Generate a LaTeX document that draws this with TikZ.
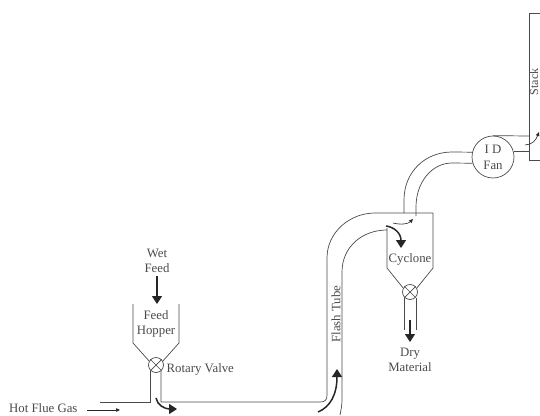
\documentclass[tikz,border=0pt]{standalone}
\usepackage{fontspec}
\setmainfont{Liberation Serif}
\usetikzlibrary{arrows.meta, calc}
\definecolor{mygray}{HTML}{4A4A4A}
\definecolor{mytext}{HTML}{4A4A4A}
\tikzset{
	labelnode/.style={
			font=\fontsize{12.8}{15}\selectfont,
			text=mytext,
			align=center,
			inner sep=0pt
		},
	valvenode/.style={
			circle,
			draw=mygray,
			fill=white,
			line width=0.7pt,
			minimum size=15pt,
			inner sep=0pt
		},
	fannode/.style={
			valvenode,
			minimum size=42pt
		},
	wall/.style={
			draw=mygray,
			line width=0.7pt
		},
	flowarrow/.style={
			draw=black!85,
			line width=1.5pt,
			-{Triangle[length=8pt,width=10pt]}
		},
	thinarrow/.style={
			draw=black!85,
			line width=0.6pt,
			-{Triangle[length=4pt,width=3.5pt]}
		}
}

\begin{document}
\begin{tikzpicture}[x=1pt,y=-1pt]

  \clip (0,0) rectangle (540,415);

  % labels
  \node[labelnode] (wet) at (157,260.5) {Wet\\Feed};
  \node[labelnode] (hopper) at (156,323.5) {Feed\\Hopper};
  \node[labelnode, anchor=west] (rotary) at (166.5,369.5) {Rotary Valve};
  \node[labelnode, anchor=west] (flue) at (9,408) {Hot Flue Gas};
  \node[labelnode, rotate=90] (flash) at (336,314) {Flash Tube};
  \node[labelnode] (cyclone) at (410,259) {Cyclone};
  \node[labelnode] (dry) at (410,359.5) {Dry\\Material};
  \node[labelnode, rotate=90, font=\fontsize{12}{15}\selectfont] (stack) at (534,82) {Stack};

  % valves and fan
  \node[valvenode] (v1) at (156,365) {};
  \node[valvenode] (v2) at (410,292) {};
  \node[fannode, labelnode, draw=mygray] (fan) at (493,157) {I D\\[1pt]Fan};
  \foreach \v in {v1, v2} {
    \draw[wall] (\v.45) -- (\v.225);
    \draw[wall] (\v.135) -- (\v.315);
  }

  % feed hopper
  \draw[wall] (133,304) -- (133,343) -- (v1.150);
  \draw[wall] (179,304) -- (179,343) -- (v1.30);
  \draw[wall] (150,371) -- (150,402) -- (100,402);

  % flash tube
  \draw[wall] (161,371) -- (161,402) -- (320,402)
    .. controls (325,402) and (327,400) .. (327,395) -- (327,258)
    .. controls (327,232) and (350,213) .. (375,213) -- (433,213);
  \draw[wall] (340,415) .. controls (341,410) and (342,405) .. (342,400) -- (342,272)
    .. controls (342,247) and (362,230) .. (387,230);

  % cyclone
  \draw[wall] (387,228) -- (387,268) -- (v2.150);
  \draw[wall] (433,213) -- (433,268) -- (v2.30);
  \draw[wall] (404,298) -- (404,330);
  \draw[wall] (416,298) -- (416,330);

  % ducts to fan and stack
  \draw[wall] (404,213) -- (404,200)
    .. controls (404,172) and (425,152) .. (452,152) -- (fan.167);
  \draw[wall] (416,216) -- (416,207)
    .. controls (416,182) and (432,163) .. (452,163) -- (fan.197);
  \draw[wall] (fan.90) -- (529,136);
  \draw[wall] (fan.0) ++(0,-6) -- (529,151);
  \draw[wall] (540,13) -- (529,13) -- (529,160) -- (540,160);

  % flow arrows
  \coordinate (feedin) at (157,304);
  \coordinate (bendstart) at (156,398);
  \coordinate (bendend) at (177,409);
  \draw[flowarrow] ($(wet.south)+(0,4)$) -- (feedin);
  \draw[flowarrow] (bendstart) .. controls (157,405) and (165,409) .. (bendend);
  \draw[flowarrow] (318,412) .. controls (330,407) and (337,395) .. (337,369);
  \draw[flowarrow] (386,226) .. controls (394,227) and (401,233) .. (401,248);
  \draw[flowarrow] (410,320) -- (410,342);
  \draw[thinarrow] (393,223) .. controls (401,225) and (408,224) .. (413,219);
  \draw[thinarrow] (525,145) .. controls (532,145) and (536,140) .. (539,132);
  \draw[thinarrow] (87,410) -- (120,410);

\end{tikzpicture}
\end{document}
